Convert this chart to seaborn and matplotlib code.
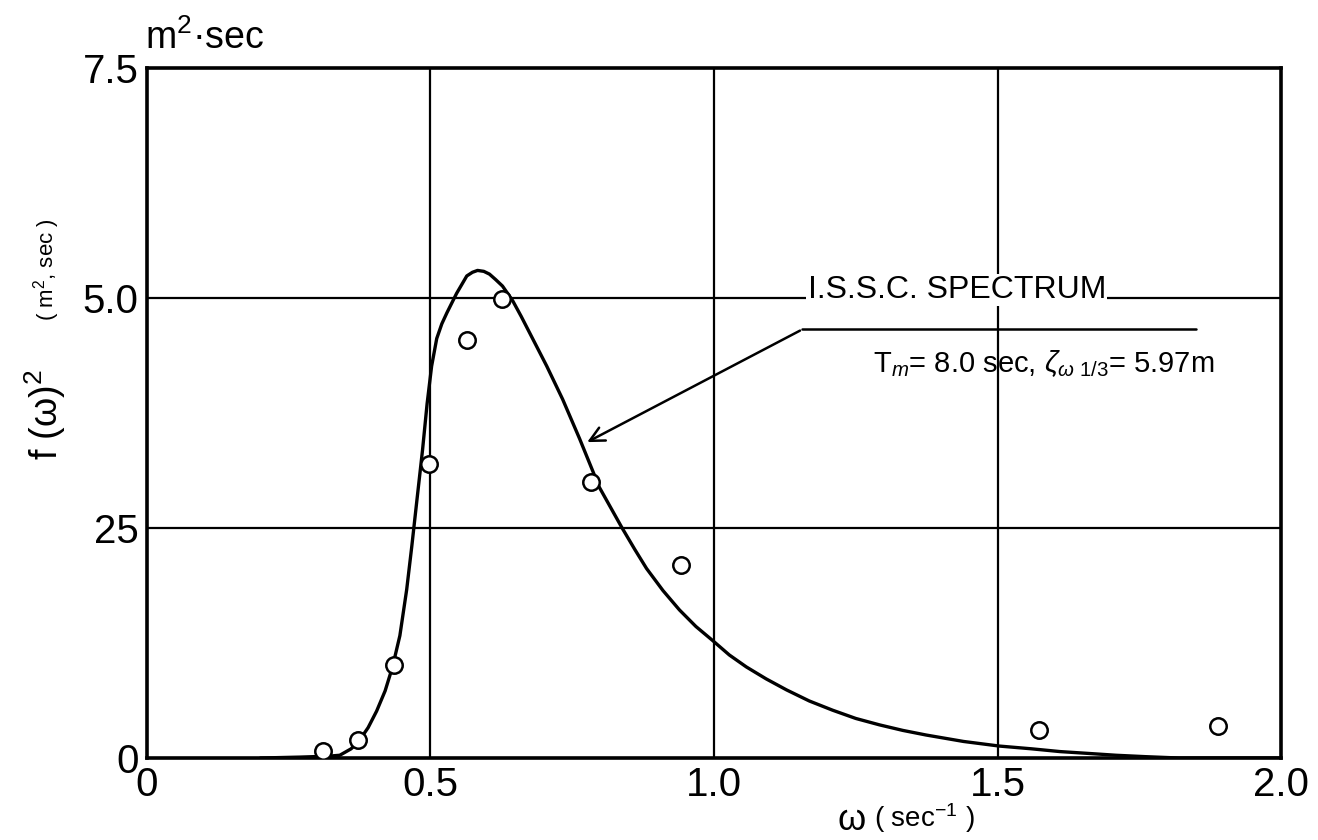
import matplotlib
matplotlib.use("Agg")
import matplotlib.pyplot as plt
import seaborn as sns
import pandas as pd

# Measured spectrum ordinates f(w)^2 [m^2 sec] at frequency w [1/sec]
omega_obs = [0.310, 0.372, 0.436, 0.497, 0.564, 0.626, 0.783, 0.942, 1.573, 1.889]
f_obs = [0.08, 0.20, 1.01, 3.20, 4.54, 4.99, 3.00, 2.10, 0.30, 0.35]

# I.S.S.C. spectrum curve (T_m = 8.0 sec, zeta_w1/3 = 5.97 m)
omega_issc = [0.20, 0.27, 0.32, 0.340, 0.360, 0.375, 0.390, 0.405, 0.420, 0.433,
              0.446, 0.458, 0.467, 0.476, 0.486, 0.494, 0.502, 0.511, 0.520,
              0.529, 0.546, 0.564, 0.574, 0.583, 0.594, 0.604, 0.615, 0.627,
              0.645, 0.660, 0.675, 0.690, 0.705, 0.733, 0.763, 0.798, 0.837,
              0.860, 0.881, 0.910, 0.939, 0.968, 0.997, 1.027, 1.057, 1.092,
              1.128, 1.168, 1.209, 1.250, 1.292, 1.333, 1.374, 1.440, 1.503,
              1.560, 1.610, 1.660, 1.709, 1.760, 1.82, 2.00]
f_issc = [0.00, 0.01, 0.02, 0.03, 0.10, 0.195, 0.33, 0.51, 0.73, 0.99,
          1.33, 1.83, 2.30, 2.80, 3.35, 3.85, 4.26, 4.56, 4.72,
          4.84, 5.05, 5.24, 5.28, 5.30, 5.29, 5.26, 5.20, 5.13,
          4.97, 4.80, 4.62, 4.44, 4.26, 3.90, 3.47, 2.94, 2.51,
          2.27, 2.06, 1.82, 1.61, 1.43, 1.28, 1.12, 0.99, 0.86,
          0.74, 0.62, 0.52, 0.43, 0.36, 0.30, 0.25, 0.18, 0.13,
          0.10, 0.07, 0.05, 0.03, 0.015, 0.00, 0.00]

x_ticks = [0, 0.5, 1.0, 1.5, 2.0]
x_tick_labels = ["0", "0.5", "1.0", "1.5", "2.0"]
y_ticks = [0, 2.5, 5.0, 7.5]
y_tick_labels = ["0", "25", "5.0", "7.5"]

sns.set_style("white")
FONT = ["Liberation Sans", "DejaVu Sans"]
plt.rcParams["font.family"] = FONT
plt.rcParams["mathtext.fontset"] = "custom"
plt.rcParams["mathtext.rm"] = "Liberation Sans"
plt.rcParams["mathtext.it"] = "Liberation Sans:italic"
plt.rcParams["mathtext.fallback"] = "stixsans"

fig = plt.figure(figsize=(13.18, 8.40), dpi=100)
ax = fig.add_axes([0.1115, 0.0976, 0.8605, 0.8214])

obs = pd.DataFrame({"omega": omega_obs, "f": f_obs})
curve = pd.DataFrame({"omega": omega_issc, "f": f_issc})

# grid lines
for gx in x_ticks[1:-1]:
    ax.axvline(gx, color="black", lw=1.6, zorder=1)
for gy in y_ticks[1:-1]:
    ax.axhline(gy, color="black", lw=1.6, zorder=1)

sns.lineplot(data=curve, x="omega", y="f", ax=ax, color="black", lw=2.4,
             sort=False, zorder=3)
sns.scatterplot(data=obs, x="omega", y="f", ax=ax, s=140, marker="o",
                facecolor="white", edgecolor="black", linewidth=1.8, zorder=4)

ax.set_xlim(0, 2.0)
ax.set_ylim(0, 7.5)
ax.set_xticks(x_ticks)
ax.set_xticklabels(x_tick_labels)
ax.set_yticks(y_ticks)
ax.set_yticklabels(y_tick_labels)
ax.tick_params(axis="both", length=0, labelsize=29, colors="black")
ax.tick_params(axis="x", pad=6)
ax.tick_params(axis="y", pad=6)
ax.set_xlabel("")
ax.set_ylabel("")
for sp in ax.spines.values():
    sp.set_color("black")
    sp.set_linewidth(2.6)

# annotation of the spectrum curve
ax.plot([1.156, 1.850], [4.66, 4.66], color="black", lw=1.8, zorder=3)
ax.annotate("", xy=(0.772, 3.42), xytext=(1.156, 4.66),
            arrowprops=dict(arrowstyle="->", color="black", lw=1.8,
                            mutation_scale=26), zorder=3)
ax.text(1.165, 5.0, "I.S.S.C. SPECTRUM", fontsize=23, ha="left",
        va="baseline", color="black", zorder=5,
        bbox=dict(facecolor="white", edgecolor="none", pad=1))
ax.text(1.280, 4.29, r"T$_m$= 8.0 sec, $\zeta_{\omega\ 1/3}$= 5.97m",
        fontsize=21, ha="left", va="center", color="black", zorder=5)

# axis titles
fig.text(145 / 1318, 1 - 38 / 840, r"m$^2$·sec", fontsize=27, ha="left",
         va="center", color="black")
fig.text(45 / 1318, 1 - 415 / 840, r"f (ω)$^2$", fontsize=27, rotation=90,
         ha="center", va="center", color="black")
fig.text(47 / 1318, 1 - 270 / 840, r"( m$^2$, sec )", fontsize=16,
         rotation=90, ha="center", va="center", color="black")
fig.text(852 / 1318, 1 - 820 / 840, "ω", fontsize=26,
         ha="center", va="center", color="black")
fig.text(874 / 1318, 1 - 818 / 840, r"( sec$^{-1}$ )", fontsize=20,
         ha="left", va="center", color="black")

fig.savefig("out.png", dpi=100, facecolor="white")
